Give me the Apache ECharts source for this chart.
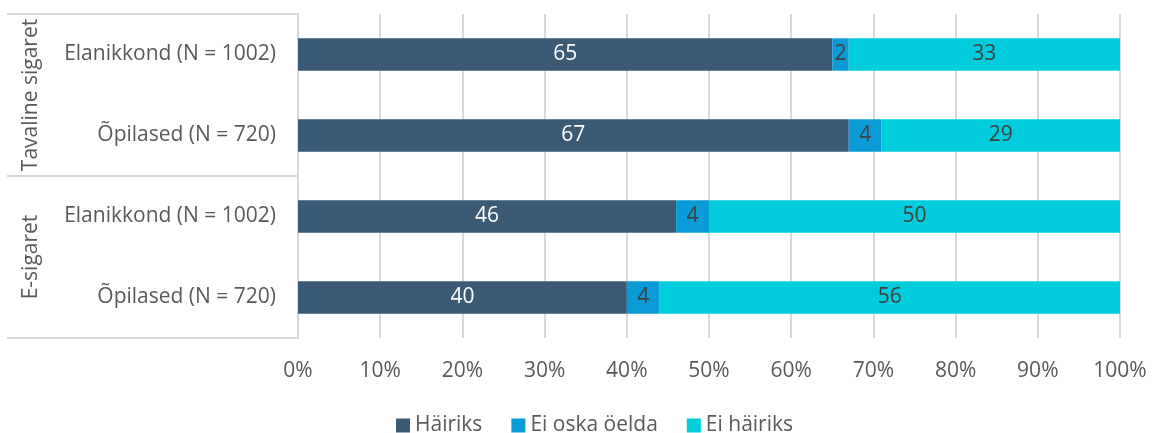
<!DOCTYPE html>
<html>
<head>
<meta charset="utf-8">
<script src="https://cdn.jsdelivr.net/npm/echarts@6/dist/echarts.min.js"></script>
<style>
  html, body { margin: 0; padding: 0; background: #fff; }
  #chart { width: 1152px; height: 433px; }
</style>
</head>
<body>
<div id="chart"></div>
<script>
var categories = ['Elanikkond (N = 1002)', 'Õpilased (N = 720)', 'Elanikkond (N = 1002)', 'Õpilased (N = 720)'];
var groups = ['Tavaline sigaret', 'E-sigaret'];
var seriesNames = ['Häiriks', 'Ei oska öelda', 'Ei häiriks'];
var hairiks = [65, 67, 46, 40];
var eiOska = [2, 4, 4, 4];
var eiHairiks = [33, 29, 50, 56];
var colors = ['#3A5A76', '#0A9AD6', '#00CCDC'];
var labelColors = ['#ffffff', '#404040', '#404040'];

var chart = echarts.init(document.getElementById('chart'));
var font = '"Open Sans", sans-serif';

var values = [hairiks, eiOska, eiHairiks];
var series = values.map(function (v, i) {
    return {
        name: seriesNames[i],
        type: 'bar',
        stack: 'total',
        barCategoryGap: '60%',
        yAxisIndex: 0,
        data: v,
        itemStyle: { color: colors[i] },
        label: {
            show: true,
            position: 'inside',
            color: labelColors[i],
            fontFamily: font,
            fontSize: 21
        }
    };
});

chart.setOption({
    animation: false,
    textStyle: { fontFamily: font },
    grid: { left: 298, right: 32, top: 14, bottom: 95, containLabel: false },
    legend: {
        top: 410,
        left: 391,
        itemWidth: 14,
        itemHeight: 14,
        itemGap: 29,
        icon: 'rect',
        textStyle: { fontFamily: font, fontSize: 21, color: '#595959' },
        data: seriesNames
    },
    xAxis: {
        type: 'value',
        min: 0,
        max: 100,
        interval: 10,
        axisLine: { show: false },
        axisTick: { show: false },
        axisLabel: { formatter: '{value}%', fontFamily: font, fontSize: 21, color: '#595959', margin: 23 },
        splitLine: { lineStyle: { color: '#d9d9d9', width: 2 } }
    },
    yAxis: [{
        type: 'category',
        inverse: true,
        data: categories,
        axisLine: { lineStyle: { color: '#d9d9d9', width: 2 } },
        axisTick: { show: false },
        axisLabel: { fontFamily: font, fontSize: 21, color: '#595959', margin: 22, interval: 0 }
    }, {
        type: 'category',
        inverse: true,
        position: 'left',
        offset: 291,
        data: groups,
        axisLine: { show: false },
        axisTick: { show: true, inside: true, interval: 0, length: 291, lineStyle: { color: '#d9d9d9', width: 2 } },
        axisLabel: { inside: true, rotate: 90, interval: 0, margin: 14, fontFamily: font, fontSize: 21, color: '#595959' }
    }],
    series: series
});
</script>
</body>
</html>
